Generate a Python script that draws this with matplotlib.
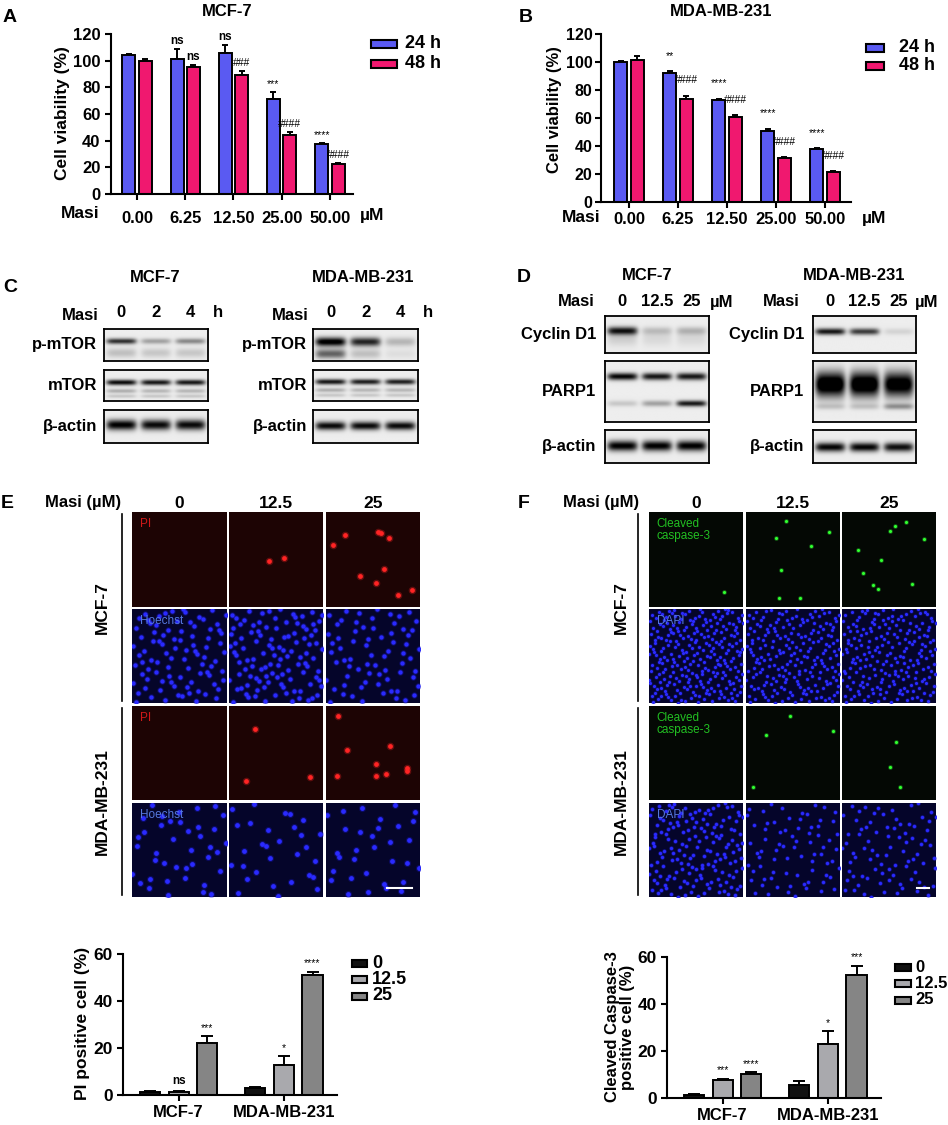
import numpy as np
import matplotlib
matplotlib.use("Agg")
import matplotlib.pyplot as plt
from matplotlib.patches import Rectangle
from matplotlib.lines import Line2D

plt.rcParams["font.family"] = ["Liberation Sans", "DejaVu Sans"]
plt.rcParams["font.weight"] = "bold"
plt.rcParams["axes.labelweight"] = "bold"

W, H = 948, 1125
BLUE = "#5a5af2"
PINK = "#f0186f"

# ---- A / B: cell viability (%) ----
DOSES = ["0.00", "6.25", "12.50", "25.00", "50.00"]
MCF_24H = [104.2, 101.6, 105.5, 71.4, 37.3]
MCF_24H_ERR = [0.6, 6.9, 6.0, 5.0, 0.8]
MCF_48H = [100.0, 95.3, 88.9, 44.3, 22.6]
MCF_48H_ERR = [1.5, 1.8, 3.7, 2.0, 0.3]
MCF_24H_SIG = ["", "ns", "ns", "***", "****"]
MCF_48H_SIG = ["", "ns", "###", "####", "####"]
MDA_24H = [100.2, 91.9, 72.9, 50.5, 38.1]
MDA_24H_ERR = [0.7, 1.4, 0.7, 1.7, 0.3]
MDA_48H = [101.2, 73.3, 61.0, 31.4, 21.7]
MDA_48H_ERR = [2.8, 2.7, 1.0, 0.7, 0.3]
MDA_24H_SIG = ["", "**", "****", "****", "****"]
MDA_48H_SIG = ["", "####", "####", "####", "####"]

# ---- C / D: western blot band strength per lane (0..1) ----
C_LANES = ["0", "2", "4"]
D_LANES = ["0", "12.5", "25"]
C_MCF_PMTOR = [(0.38, 0.09, [0.75, 0.30, 0.40]), (0.75, 0.15, [0.18, 0.15, 0.15])]
C_MCF_MTOR = [(0.40, 0.09, [0.90, 0.85, 0.85]), (0.68, 0.07, [0.25, 0.22, 0.22]),
              (0.85, 0.06, [0.15, 0.15, 0.15])]
C_MCF_ACTIN = [(0.45, 0.16, [0.95, 0.90, 0.90])]
C_MDA_PMTOR = [(0.40, 0.14, [1.00, 0.80, 0.22]), (0.78, 0.15, [0.55, 0.18, 0.06])]
C_MDA_MTOR = [(0.38, 0.09, [0.85, 0.82, 0.82]), (0.65, 0.07, [0.25, 0.22, 0.22]),
              (0.82, 0.06, [0.15, 0.15, 0.15])]
C_MDA_ACTIN = [(0.48, 0.13, [0.90, 0.90, 0.90])]
D_MCF_CYC = [(0.40, 0.11, [0.85, 0.18, 0.22]), (0.62, 0.20, [0.12, 0.08, 0.08])]
D_MCF_PARP = [(0.25, 0.06, [0.92, 0.85, 0.85]), (0.70, 0.05, [0.15, 0.30, 0.85])]
D_MCF_ACTIN = [(0.48, 0.16, [0.95, 0.95, 0.95])]
D_MDA_CYC = [(0.42, 0.09, [0.85, 0.70, 0.10])]
D_MDA_PARP = [(0.38, 0.20, [1.20, 1.20, 1.10]), (0.75, 0.05, [0.15, 0.15, 0.35])]
D_MDA_ACTIN = [(0.52, 0.14, [0.92, 0.92, 0.88])]

# ---- E / F: fluorescence fields ----
MIC_DOSES = ["0", "12.5", "25"]
PI_MCF7 = [[], [(0.43, 0.52), (0.58, 0.48)],
           [(0.07, 0.35), (0.20, 0.24), (0.55, 0.21), (0.59, 0.22), (0.67, 0.27),
            (0.62, 0.60), (0.36, 0.67), (0.53, 0.75), (0.77, 0.87), (0.92, 0.82)]]
PI_MDA = [[], [(0.28, 0.24), (0.18, 0.80), (0.86, 0.75)],
          [(0.13, 0.11), (0.22, 0.47), (0.68, 0.43), (0.53, 0.62), (0.86, 0.66),
           (0.12, 0.74), (0.53, 0.74), (0.64, 0.72), (0.86, 0.69)]]
CASP_MCF7 = [[(0.80, 0.84)],
             [(0.43, 0.09), (0.37, 0.61), (0.35, 0.90), (0.57, 0.90), (0.88, 0.21),
              (0.69, 0.36), (0.32, 0.27)],
             [(0.51, 0.20), (0.56, 0.15), (0.68, 0.10), (0.17, 0.40), (0.22, 0.64),
              (0.33, 0.77), (0.38, 0.81), (0.74, 0.76), (0.41, 0.51), (0.87, 0.28)]]
CASP_MDA = [[], [(0.47, 0.11), (0.21, 0.31), (0.93, 0.27), (0.07, 0.86)],
            [(0.57, 0.38), (0.51, 0.65), (0.62, 0.86)]]
HOECHST_MCF7_COUNT = [90, 110, 70]
HOECHST_MDA_COUNT = [40, 30, 32]
DAPI_MCF7_COUNT = [260, 210, 210]
DAPI_MDA_COUNT = [160, 75, 85]

# ---- E / F: positive cell (%) ----
GROUPS = ["MCF-7", "MDA-MB-231"]
PI_0 = [1.3, 3.1]
PI_0_ERR = [0.2, 0.3]
PI_125 = [1.3, 12.9]
PI_125_ERR = [0.4, 3.5]
PI_25 = [22.0, 51.2]
PI_25_ERR = [2.9, 1.1]
PI_SIG = [["", ""], ["ns", "*"], ["***", "****"]]
CASP_0 = [1.4, 5.7]
CASP_0_ERR = [0.2, 1.4]
CASP_125 = [7.5, 23.1]
CASP_125_ERR = [0.6, 5.3]
CASP_25 = [10.4, 52.5]
CASP_25_ERR = [0.5, 3.8]
CASP_SIG = [["", ""], ["***", "*"], ["****", "***"]]
DOSE_COLORS = ["#111111", "#a9a9ad", "#858585"]

LBL = 12  # main label size


def px_axes(fig, left, top, right, bottom):
    return fig.add_axes([left / W, 1 - bottom / H, (right - left) / W, (bottom - top) / H])


def ftext(fig, x, y, s, size=LBL, **kw):
    kw.setdefault("ha", "center")
    kw.setdefault("va", "center")
    kw.setdefault("weight", "bold")
    return fig.text(x / W, 1 - y / H, s, fontsize=size, **kw)


def legend_patch(fig, x0, x1, yc, h, color, label, lx, size=13):
    fig.patches.append(Rectangle((x0 / W, 1 - (yc + h / 2) / H), (x1 - x0) / W, h / H,
                                 transform=fig.transFigure, facecolor=color,
                                 edgecolor="black", lw=1.5))
    ftext(fig, lx, yc, label, size=size, ha="left")


def style_axes(ax, size=LBL):
    for side in ("top", "right"):
        ax.spines[side].set_visible(False)
    for side in ("left", "bottom"):
        ax.spines[side].set_linewidth(1.5)
    ax.tick_params(width=1.5, length=4, labelsize=size)
    for lab in ax.get_xticklabels() + ax.get_yticklabels():
        lab.set_fontweight("bold")


def viability(ax, v24, e24, s24, v48, e48, s48, off):
    x = np.arange(len(DOSES))
    for shift, vals, errs, sigs, col in ((-0.17, v24, e24, s24, BLUE),
                                         (0.17, v48, e48, s48, PINK)):
        ax.bar(x + shift, vals, 0.27, color=col, edgecolor="black", lw=1.4, zorder=2)
        ax.errorbar(x + shift, vals, yerr=[np.zeros(len(vals)), errs], fmt="none",
                    ecolor="black", elinewidth=1.4, capsize=2.5, capthick=1.4, zorder=1)
        for xi, v, e, s in zip(x + shift, vals, errs, sigs):
            if s:
                ax.text(xi, v + e + off, s, ha="center", va="center",
                        fontsize=8.5 if s == "ns" else 7.5,
                        weight="bold" if s == "ns" else "normal")
    ax.set_ylim(0, 120)
    ax.set_yticks([0, 20, 40, 60, 80, 100, 120])
    ax.set_xticks(x)
    ax.set_xticklabels(DOSES)
    style_axes(ax)


def blot(fig, box, bands):
    ax = px_axes(fig, *box)
    ny, nx = 60, 200
    yy = np.linspace(0, 1, ny)[:, None]
    xx = np.linspace(0, 1, nx)[None, :]
    dark = np.full((ny, nx), 0.07)
    for y0, sy, levels in bands:
        for i, lv in enumerate(levels):
            xc = (i + 0.5) / 3
            dark = dark + lv * np.exp(-((yy - y0) / sy) ** 2) * np.exp(-((xx - xc) / 0.145) ** 6)
    ax.imshow(np.clip(dark, 0, 1), cmap="gray_r", vmin=0, vmax=1, aspect="auto",
              extent=(0, 1, 1, 0), interpolation="bilinear")
    ax.set_xticks([])
    ax.set_yticks([])
    for sp in ax.spines.values():
        sp.set_linewidth(1.3)
    return ax


def halton(n, base, start):
    out = []
    for i in range(start, start + n):
        f, r, k = 1.0, 0.0, i
        while k > 0:
            f /= base
            r += f * (k % base)
            k //= base
        out.append(r)
    return np.array(out)


def field(fig, box, bg, label=None, label_color=None, dots=None, dot_color=None,
          dot_size=14, nuclei=0, nuc_size=9, seed_start=1):
    ax = px_axes(fig, *box)
    ax.set_facecolor(bg)
    ax.set_xlim(0, 1)
    ax.set_ylim(1, 0)
    ax.set_xticks([])
    ax.set_yticks([])
    for sp in ax.spines.values():
        sp.set_visible(False)
    if nuclei:
        nx = halton(nuclei, 2, seed_start)
        ny = halton(nuclei, 3, seed_start)
        ax.scatter(nx, ny, s=nuc_size * 2.2, color="#1818c8", alpha=0.35, lw=0)
        ax.scatter(nx, ny, s=nuc_size, color="#2a2aff", lw=0)
    if dots:
        dx = [d[0] for d in dots]
        dy = [d[1] for d in dots]
        ax.scatter(dx, dy, s=dot_size * 2.5, color=dot_color, alpha=0.3, lw=0)
        ax.scatter(dx, dy, s=dot_size, color=dot_color, lw=0)
    if label:
        ax.text(0.08, 0.06, label, color=label_color, fontsize=8.5, ha="left", va="top",
                weight="normal", linespacing=1.0)
    return ax


def dose_bars(ax, means, errs, sigs):
    centers = np.array([0.0, 3.65])
    for i, (m, e, s) in enumerate(zip(means, errs, sigs)):
        xs = centers + (i - 1)
        ax.bar(xs, m, 0.7, color=DOSE_COLORS[i], edgecolor="black", lw=1.4, zorder=2)
        ax.errorbar(xs, m, yerr=[np.zeros(len(m)), e], fmt="none", ecolor="black",
                    elinewidth=1.4, capsize=4, capthick=1.4, zorder=1)
        for xi, v, ee, ss in zip(xs, m, e, s):
            if ss:
                ax.text(xi, v + ee + 1.5, ss, ha="center", va="bottom",
                        fontsize=8.5 if ss == "ns" else 7.5,
                        weight="bold" if ss == "ns" else "normal")
    ax.set_xlim(-1.93, 5.5)
    ax.set_ylim(0, 60)
    ax.set_yticks([0, 20, 40, 60])
    ax.set_xticks(centers)
    ax.set_xticklabels(GROUPS)
    style_axes(ax, size=12.5)
    ax.tick_params(axis="x", labelsize=12, pad=3)


fig = plt.figure(figsize=(W / 100, H / 100), dpi=100)

# ---------------- A ----------------
axA = px_axes(fig, 111, 34, 353, 194)
viability(axA, MCF_24H, MCF_24H_ERR, MCF_24H_SIG, MCF_48H, MCF_48H_ERR, MCF_48H_SIG, 6)
axA.set_xlim(-0.54, 4.48)
axA.tick_params(axis="x", pad=8)
ftext(fig, 10, 18, "A", size=14)
ftext(fig, 227, 12, "MCF-7", size=12)
ftext(fig, 62, 113, "Cell viability (%)", size=12.5, rotation=90)
ftext(fig, 80, 214, "Masi", size=12.5)
ftext(fig, 372, 216, "µM", size=12.5)
legend_patch(fig, 371, 397, 44, 8, BLUE, "24 h", 405)
legend_patch(fig, 371, 397, 64, 8, PINK, "48 h", 405)

# ---------------- B ----------------
axB = px_axes(fig, 601, 34, 851, 202)
viability(axB, MDA_24H, MDA_24H_ERR, MDA_24H_SIG, MDA_48H, MDA_48H_ERR, MDA_48H_SIG, 11)
axB.set_xlim(-0.57, 4.53)
axB.tick_params(axis="x", pad=3)
axB.tick_params(axis="y", labelsize=11.5, pad=2)
ftext(fig, 554, 110, "Cell viability (%)", size=12, rotation=90)
ftext(fig, 526, 18, "B", size=14)
ftext(fig, 721, 12, "MDA-MB-231", size=12)
ftext(fig, 581, 217, "Masi", size=12.5)
ftext(fig, 874, 218, "µM", size=12.5)
legend_patch(fig, 866, 884, 48, 8, BLUE, "24 h", 899)
legend_patch(fig, 866, 884, 66, 8, PINK, "48 h", 899)

# ---------------- C ----------------
ftext(fig, 10, 288, "C", size=14)
ftext(fig, 155, 277, "MCF-7", size=12)
ftext(fig, 363, 277, "MDA-MB-231", size=12)
c_rows = [("p-mTOR", 329, 361), ("mTOR", 370, 401), ("β-actin", 410, 443)]
for (x0, x1, lab_x, masi_x, h_x, sets) in (
        (104, 208, 97, 80, 218, [C_MCF_PMTOR, C_MCF_MTOR, C_MCF_ACTIN]),
        (313, 418, 307, 290, 428, [C_MDA_PMTOR, C_MDA_MTOR, C_MDA_ACTIN])):
    ftext(fig, masi_x, 315, "Masi")
    for i, ln in enumerate(C_LANES):
        ftext(fig, x0 + (x1 - x0) * (i + 0.5) / 3, 313, ln)
    ftext(fig, h_x, 313, "h")
    for (name, t, b), bands in zip(c_rows, sets):
        blot(fig, (x0, t, x1, b), bands)
        ftext(fig, lab_x, (t + b) / 2, name, ha="right")

# ---------------- D ----------------
ftext(fig, 524, 278, "D", size=14)
ftext(fig, 647, 276, "MCF-7", size=12)
ftext(fig, 854, 276, "MDA-MB-231", size=12)
d_rows = [("Cyclin D1", 316, 353), ("PARP1", 361, 422), ("β-actin", 430, 463)]
for (x0, x1, lab_x, masi_x, um_x, sets) in (
        (605, 709, 596, 576, 722, [D_MCF_CYC, D_MCF_PARP, D_MCF_ACTIN]),
        (813, 916, 804, 781, 927, [D_MDA_CYC, D_MDA_PARP, D_MDA_ACTIN])):
    ftext(fig, masi_x, 302, "Masi")
    for i, ln in enumerate(D_LANES):
        ftext(fig, x0 + (x1 - x0) * (i + 0.5) / 3, 301, ln)
    ftext(fig, um_x, 302, "µM")
    for (name, t, b), bands in zip(d_rows, sets):
        blot(fig, (x0, t, x1, b), bands)
        ftext(fig, lab_x, (t + b) / 2, name, ha="right")

# ---------------- E / F images ----------------
rows_y = [(512, 607), (609, 703), (706, 800), (803, 897)]
for (letter, lx, masi_x, cols, bracket_x, rowlab_x, top_sets, counts, ttl, tcol, bcol_lab,
     dot_col, nuc_size, top_bg, dsize, sb) in (
        ("E", 7, 83, [(132, 227), (229, 323), (326, 420)], 122, 102,
         [PI_MCF7, PI_MDA], [HOECHST_MCF7_COUNT, HOECHST_MDA_COUNT], "PI", "#d01818",
         "Hoechst", "#ff2424", 10, "#1d0404", 12, (387, 412)),
        ("F", 524, 601, [(649, 743), (746, 840), (842, 936)], 638, 621,
         [CASP_MCF7, CASP_MDA], [DAPI_MCF7_COUNT, DAPI_MDA_COUNT], "Cleaved\ncaspase-3",
         "#22c022", "DAPI", "#30ff30", 5, "#040804", 5, (917, 929))):
    ftext(fig, lx, 504, letter, size=14)
    ftext(fig, masi_x, 503, "Masi (µM)", size=12)
    for (c0, c1), d in zip(cols, MIC_DOSES):
        ftext(fig, (c0 + c1) / 2, 503, d, size=12.5)
    for g, name in enumerate(GROUPS):
        (t0, b0), (t1, b1) = rows_y[2 * g], rows_y[2 * g + 1]
        fig.add_artist(Line2D([bracket_x / W] * 2, [1 - (t0 + 2) / H, 1 - (b1 - 2) / H],
                              color="black", lw=1.2))
        ftext(fig, rowlab_x, (t0 + b1) / 2, name, size=12.5, rotation=90)
        for j, (c0, c1) in enumerate(cols):
            field(fig, (c0, t0, c1, b0), top_bg, ttl if j == 0 else None, tcol,
                  dots=top_sets[g][j], dot_color=dot_col, dot_size=dsize)
            field(fig, (c0, t1, c1, b1), "#05052a", bcol_lab if j == 0 else None, "#5577dd",
                  nuclei=counts[g][j], nuc_size=nuc_size * (1.2 if g == 1 else 1.0),
                  seed_start=1 + 37 * j + 101 * g)
    yb = 888
    fig.add_artist(Line2D([sb[0] / W, sb[1] / W], [1 - yb / H] * 2, color="white", lw=1.5))

# ---------------- E / F bar charts ----------------
axE = px_axes(fig, 123, 954, 337, 1095)
dose_bars(axE, [PI_0, PI_125, PI_25], [PI_0_ERR, PI_125_ERR, PI_25_ERR], PI_SIG)
ftext(fig, 82, 1023, "PI positive cell (%)", size=12.5, rotation=90)
for i, d in enumerate(MIC_DOSES):
    legend_patch(fig, 352, 367, 963 + 16.5 * i, 7, DOSE_COLORS[i], d, 372, size=13)

axF = px_axes(fig, 667, 957, 881, 1098)
dose_bars(axF, [CASP_0, CASP_125, CASP_25], [CASP_0_ERR, CASP_125_ERR, CASP_25_ERR], CASP_SIG)
ftext(fig, 620, 1027, "Cleaved Caspase-3\npositive cell (%)", size=12, rotation=90,
      linespacing=1.0)
for i, d in enumerate(MIC_DOSES):
    legend_patch(fig, 895, 911, 967 + 16.5 * i, 7, DOSE_COLORS[i], d, 915, size=12)

fig.savefig("out.png", dpi=100)
